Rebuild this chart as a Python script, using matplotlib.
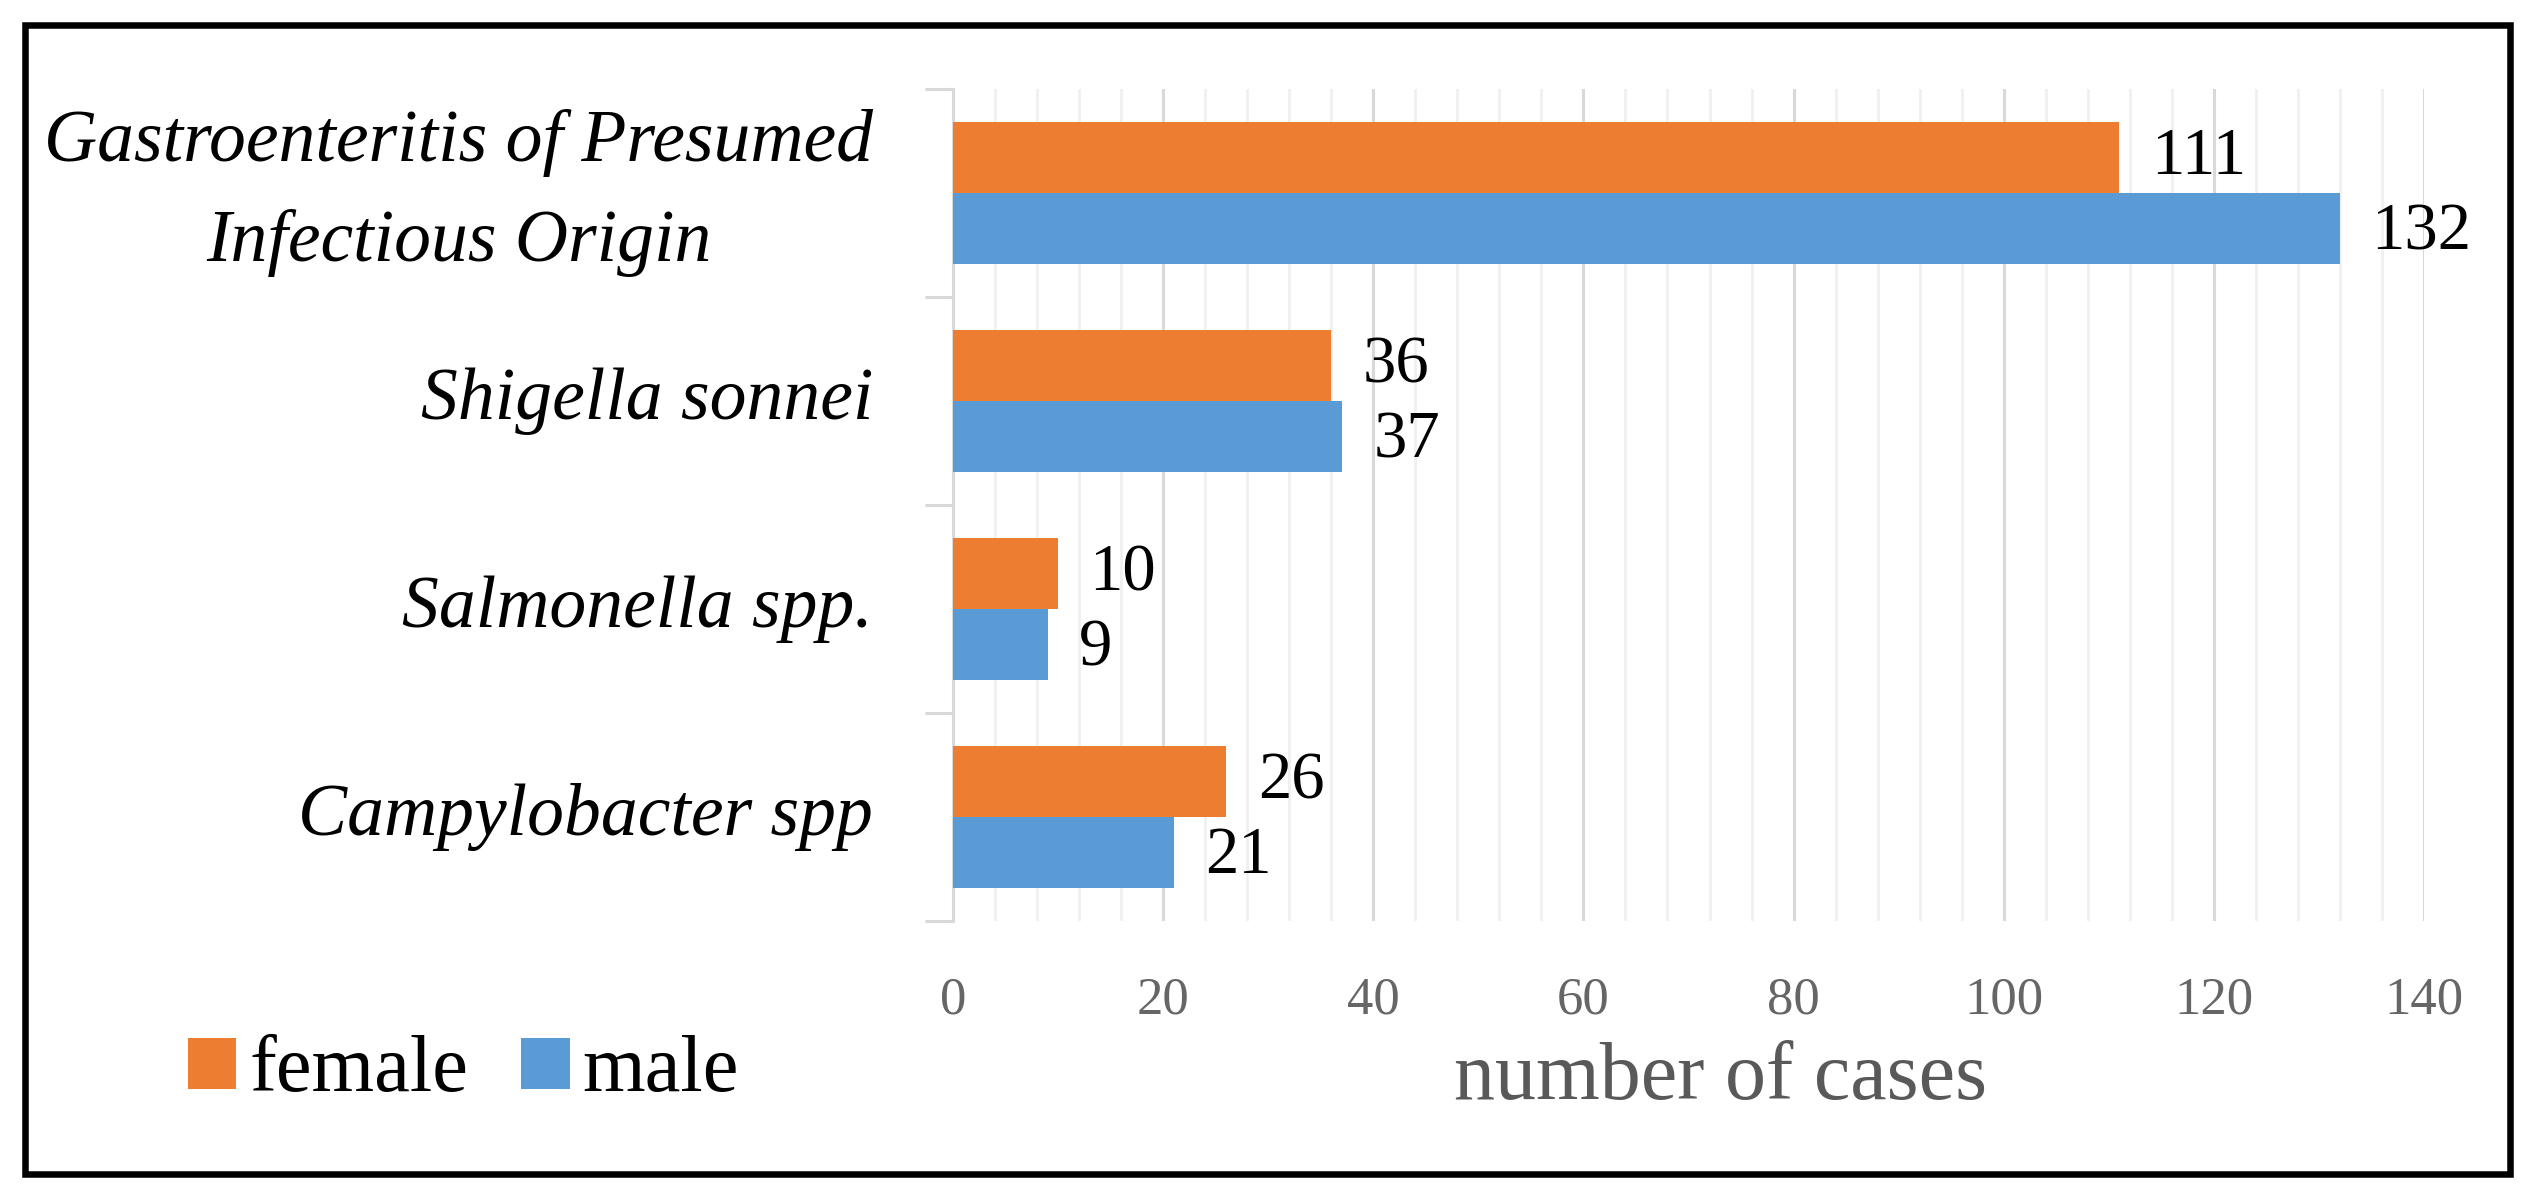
import matplotlib
matplotlib.use("Agg")
import matplotlib.pyplot as plt
from matplotlib.patches import Patch, Rectangle
from matplotlib.ticker import MultipleLocator
import matplotlib.transforms as mtrans
import numpy as np

categories = ["Gastroenteritis of Presumed\nInfectious Origin", "Shigella sonnei",
              "Salmonella spp.", "Campylobacter spp"]
female = [111, 36, 10, 26]
male = [132, 37, 9, 21]
series_names = ["female", "male"]
xticks = [0, 20, 40, 60, 80, 100, 120, 140]

ORANGE = "#ED7D31"
BLUE = "#5B9BD5"
SERIF = ["Liberation Serif", "DejaVu Serif"]

W, H = 2534, 1197
fig = plt.figure(figsize=(W / 100, H / 100), dpi=100)
fig.patch.set_facecolor("white")

ax = fig.add_axes([953 / W, 1 - 921 / H, (2424 - 953) / W, (921 - 89) / H])

n = len(categories)
ypos = np.arange(n)[::-1]  # top category first
bh = 0.34
ax.barh(ypos + bh / 2, female, height=bh, color=ORANGE, zorder=3)
ax.barh(ypos - bh / 2, male, height=bh, color=BLUE, zorder=3)

for y, v in zip(ypos, female):
    ax.text(v + 3, y + bh / 2, str(v), va="center", ha="left",
            fontsize=48, family=SERIF, color="black")
for y, v in zip(ypos, male):
    ax.text(v + 3, y - bh / 2 - 0.02, str(v), va="center", ha="left",
            fontsize=48, family=SERIF, color="black")

ax.set_xlim(0, 140)
ax.set_ylim(-0.5, n - 0.5)
ax.xaxis.set_major_locator(MultipleLocator(20))
ax.xaxis.set_minor_locator(MultipleLocator(4))
ax.set_xticks(xticks)
ax.grid(axis="x", which="major", color="#D9D9D9", lw=2.2, zorder=0)
ax.grid(axis="x", which="minor", color="#F0F0F0", lw=2.0, zorder=0)
ax.tick_params(axis="x", which="both", length=0, pad=40, labelsize=38,
               labelcolor="#666666")
for lab in ax.get_xticklabels():
    lab.set_family(SERIF)

# y axis: category separators as ticks
ax.set_yticks(np.arange(-0.5, n, 1.0))
ax.set_yticklabels([])
ax.tick_params(axis="y", which="major", length=20, width=2.2, color="#D9D9D9")
lab_tr = ax.get_yaxis_transform() + mtrans.ScaledTranslation(-80 / 100, 0, fig.dpi_scale_trans)
for y, c in zip(ypos, categories):
    ax.text(0, y, c, transform=lab_tr, ha="right",
            va="center", multialignment="center", fontsize=53, style="italic",
            family=SERIF, linespacing=1.6)

for s in ["top", "right", "bottom"]:
    ax.spines[s].set_visible(False)
ax.spines["left"].set_color("#D9D9D9")
ax.spines["left"].set_linewidth(2.2)

ax.set_xlabel("number of cases", fontsize=59, family=SERIF, color="#595959",
              labelpad=12)
ax.xaxis.label.set_x(0.522)

handles = [Patch(facecolor=ORANGE, label=series_names[0]),
           Patch(facecolor=BLUE, label=series_names[1])]
fig.legend(handles=handles, loc="center left", bbox_to_anchor=(188 / W, 1 - 1072 / H),
           ncol=2, frameon=False, prop={"family": SERIF, "size": 58},
           handlelength=0.6, handleheight=0.6, handletextpad=0.16,
           columnspacing=0.66, borderpad=0, borderaxespad=0)

fig.patches.append(Rectangle((25 / W, 1 - 1174 / H), (2510 - 25) / W, (1174 - 25) / H,
                             transform=fig.transFigure, fill=False, edgecolor="black",
                             lw=4.7, zorder=10))

fig.savefig("out.png", dpi=100)
